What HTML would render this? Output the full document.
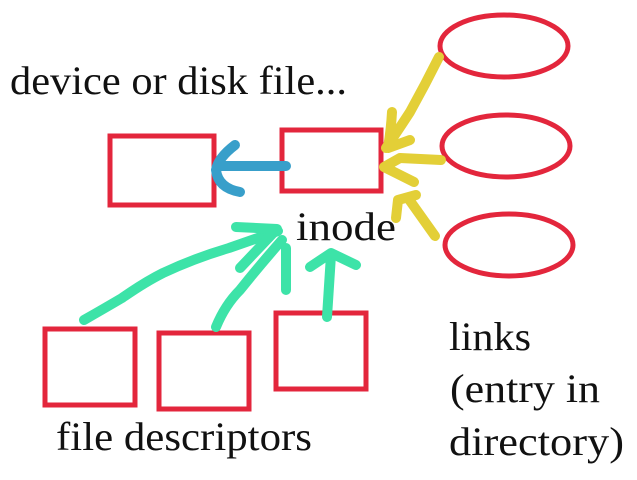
<!DOCTYPE html>
<html><head><meta charset="utf-8"><style>
html,body{margin:0;padding:0;background:#fff;width:637px;height:480px;overflow:hidden}
svg{display:block}
text{font-family:"Liberation Serif",serif;fill:#111}
</style></head><body>
<svg width="637" height="480" viewBox="0 0 637 480">
<g fill="none" stroke="#e3263c" stroke-width="5">
<rect x="110" y="136" width="104" height="69"/>
<rect x="282" y="130" width="99" height="61"/>
<ellipse cx="504" cy="46" rx="64" ry="31"/>
<ellipse cx="506" cy="146" rx="64" ry="31"/>
<ellipse cx="509" cy="245" rx="64" ry="31"/>
<rect x="45" y="329" width="90" height="76"/>
<rect x="159" y="333" width="90" height="76"/>
<rect x="276" y="313" width="90" height="76"/>
</g>
<g fill="none" stroke-linecap="round" stroke-linejoin="round" stroke-width="10">
<g stroke="#389fca">
<path d="M286 166 L218 166"/>
<path d="M235 145 Q218 158 216 170 Q218 188 240 192"/>
</g>
<g stroke="#e3cf37">
<path d="M439 57 Q425 85 410 112 Q395 135 386 148"/>
<path d="M392 112 Q391 130 388 148 L410 140"/>
<path d="M441 160 L400 158 L384 167 L414 182"/>
<path d="M435 236 L408 198"/>
<path d="M396 218 L398 200 L416 195"/>
</g>
<g stroke="#3de3a8">
<path d="M84 320 Q105 308 122 298 Q145 282 163 273 Q195 258 229 248 L278 231"/>
<path d="M236 227 L277 229 L240 268"/>
<path d="M216 327 Q225 305 240 290 Q260 265 282 240"/>
<path d="M286 248 L286 290"/>
<path d="M327 317 L331 255"/>
<path d="M310 267 L331 253 L356 265"/>
</g>
</g>
<text x="10" y="94" font-size="40" textLength="337" lengthAdjust="spacingAndGlyphs">device or disk file...</text>
<text x="296" y="240" font-size="40" textLength="100" lengthAdjust="spacingAndGlyphs">inode</text>
<text x="56" y="450" font-size="40" textLength="256" lengthAdjust="spacingAndGlyphs">file descriptors</text>
<text x="449" y="350" font-size="40" textLength="82" lengthAdjust="spacingAndGlyphs">links</text>
<text x="450" y="402" font-size="40" textLength="150" lengthAdjust="spacingAndGlyphs">(entry in</text>
<text x="449" y="455" font-size="40" textLength="175" lengthAdjust="spacingAndGlyphs">directory)</text>
</svg>
</body></html>
